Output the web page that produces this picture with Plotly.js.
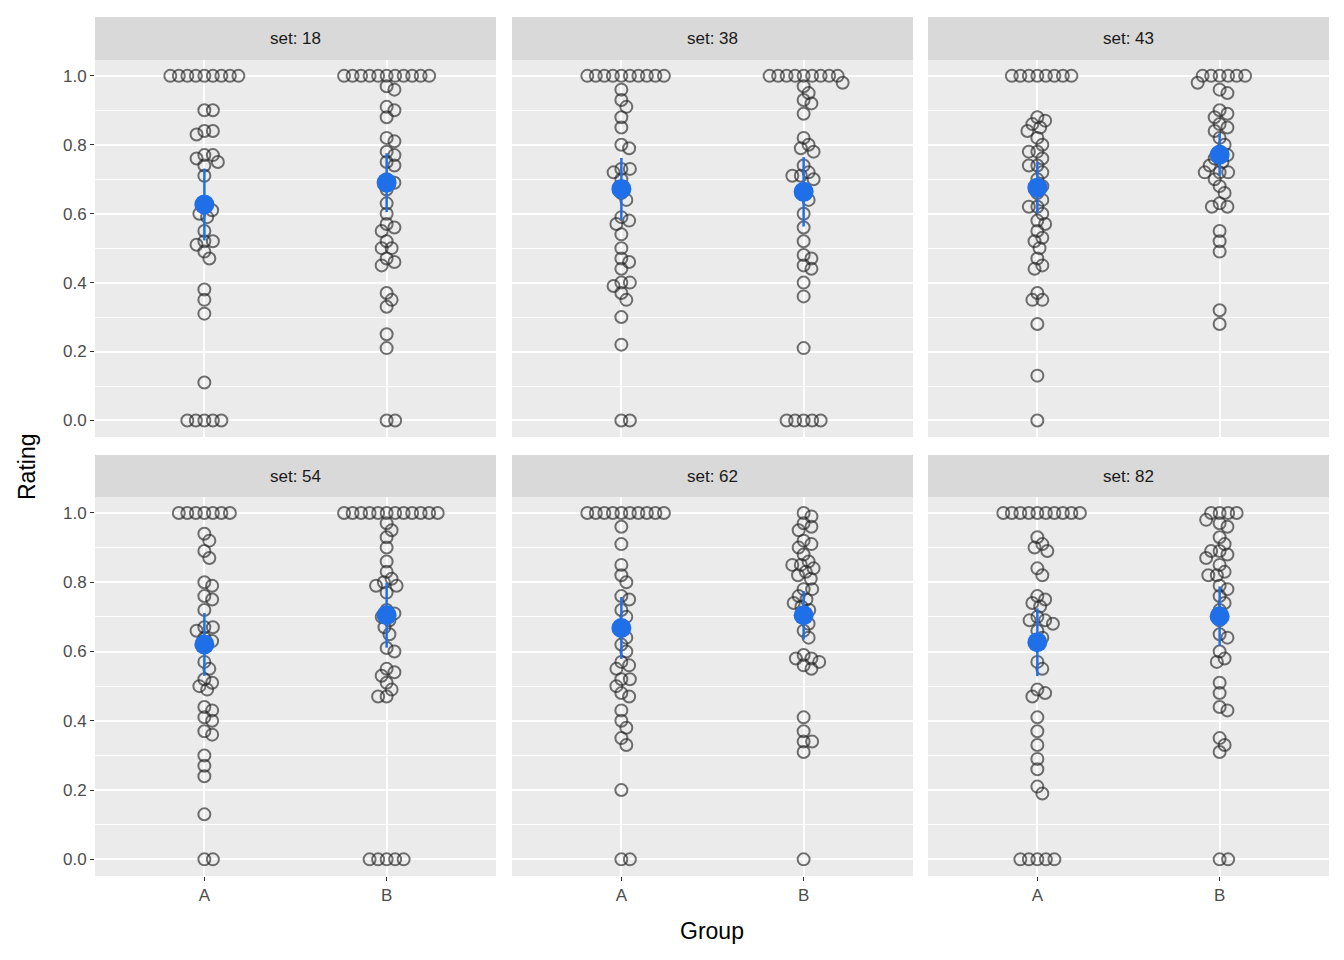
<!DOCTYPE html>
<html><head><meta charset="utf-8">
<script src="https://cdn.plot.ly/plotly-3.0.1.min.js"></script>
<style>body{margin:0;background:#fff}</style>
</head><body>
<div id="chart" style="width:1344px;height:960px"></div>
<script>
// ratings per set and group
const sets = ["18", "38", "43", "54", "62", "82"];
const rep = (v, n) => Array(n).fill(v);

const s18A = [...rep(1, 9), .90, .90, .84, .84, .83, .77, .77, .76, .75, .74, .71, .62, .61, .60, .59, .55, .52, .52, .51, .49, .47, .38, .35, .31, .11, ...rep(0, 5)];
const s18B = [...rep(1, 11), .97, .96, .91, .90, .88, .82, .81, .78, .77, .75, .74, .70, .69, .67, .63, .60, .57, .56, .55, .52, .50, .50, .47, .46, .45, .37, .35, .33, .25, .21, 0, 0];
const s38A = [...rep(1, 10), .96, .93, .91, .88, .85, .80, .79, .73, .73, .72, .70, .66, .64, .59, .58, .57, .54, .50, .47, .46, .44, .40, .40, .39, .37, .35, .30, .22, 0, 0];
const s38B = [...rep(1, 9), .98, .97, .95, .93, .92, .89, .82, .80, .79, .78, .74, .72, .71, .71, .70, .66, .64, .60, .56, .52, .48, .47, .45, .44, .40, .36, .21, ...rep(0, 5)];
const s43A = [...rep(1, 8), .88, .87, .86, .85, .84, .82, .80, .78, .78, .76, .74, .74, .72, .70, .68, .66, .64, .62, .62, .60, .58, .57, .55, .53, .52, .50, .47, .45, .44, .37, .35, .35, .28, .13, 0];
const s43B = [...rep(1, 6), .98, .96, .95, .90, .89, .88, .86, .85, .84, .82, .80, .78, .77, .76, .75, .74, .72, .72, .72, .70, .68, .66, .63, .62, .62, .55, .52, .49, .32, .28];
const s54A = [...rep(1, 7), .94, .92, .89, .87, .80, .79, .76, .75, .72, .67, .67, .66, .64, .63, .57, .55, .52, .51, .50, .49, .44, .43, .41, .40, .37, .36, .30, .27, .24, .13, 0, 0];
const s54B = [...rep(1, 12), .97, .95, .93, .90, .86, .83, .81, .80, .79, .79, .77, .72, .71, .70, .69, .67, .65, .61, .60, .55, .54, .53, .51, .49, .47, .47, ...rep(0, 5)];
const s62A = [...rep(1, 10), .96, .91, .85, .82, .80, .76, .75, .72, .70, .66, .64, .62, .60, .57, .56, .55, .52, .52, .50, .48, .47, .43, .40, .38, .35, .33, .20, 0, 0];
const s62B = [1, .99, .97, .96, .95, .92, .91, .90, .88, .86, .85, .85, .84, .83, .82, .81, .78, .78, .76, .75, .74, .73, .72, .70, .68, .66, .64, .59, .58, .58, .57, .56, .55, .41, .37, .34, .34, .31, 0];
const s82A = [...rep(1, 10), .93, .91, .90, .89, .84, .82, .76, .75, .74, .73, .70, .69, .69, .68, .66, .64, .62, .57, .55, .49, .48, .47, .41, .37, .33, .29, .26, .21, .19, ...rep(0, 5)];
const s82B = [...rep(1, 4), .98, .97, .96, .93, .91, .89, .89, .88, .87, .85, .83, .82, .82, .79, .78, .76, .74, .72, .69, .65, .64, .60, .58, .57, .51, .48, .44, .43, .35, .33, .31, 0, 0];

const groupA = [s18A, s38A, s43A, s54A, s62A, s82A];
const groupB = [s18B, s38B, s43B, s54B, s62B, s82B];

// beeswarm offsets in pixel space, then back to data units
const PXX = 182, PXY = 345, DMIN = 8.5;
function swarm(vals) {
  const order = vals.map((v, i) => i).sort((a, b) => vals[b] - vals[a]);
  const placed = [], off = new Array(vals.length);
  order.forEach(i => {
    const y = vals[i] * PXY;
    const near = placed.filter(p => Math.abs(p.y - y) < DMIN);
    const cands = [0];
    near.forEach(p => { const dx = Math.sqrt(DMIN * DMIN - (p.y - y) ** 2); cands.push(p.x + dx, p.x - dx); });
    cands.sort((a, b) => Math.abs(a) - Math.abs(b));
    const x = cands.find(c => near.every(p => Math.hypot(p.x - c, p.y - y) >= DMIN - 1e-6));
    placed.push({ x, y }); off[i] = x / PXX;
  });
  return off;
}
const mean = a => a.reduce((s, v) => s + v, 0) / a.length;
const ci = a => { const m = mean(a); const sd = Math.sqrt(a.reduce((s, v) => s + (v - m) ** 2, 0) / (a.length - 1)); return 1.96 * sd / Math.sqrt(a.length); };

const cols = [[95, 496], [512, 913], [928, 1329]];
const rows = [[60, 437, 17], [497, 876, 455]];
const W = 1344, H = 960;
const font = "Liberation Sans, Arial, sans-serif";
const traces = [], shapes = [], annotations = [];
const layout = {
  width: W, height: H, margin: { l: 0, r: 0, t: 0, b: 0 },
  paper_bgcolor: "#fff", plot_bgcolor: "#ebebeb", showlegend: false,
  font: { family: font, color: "#4d4d4d", size: 15 }
};

sets.forEach((s, k) => {
  const c = cols[k % 3], r = rows[Math.floor(k / 3)];
  const n = k + 1, xa = "x" + (n === 1 ? "" : n), ya = "y" + (n === 1 ? "" : n);
  layout["xaxis" + (n === 1 ? "" : n)] = {
    domain: [c[0] / W, c[1] / W], anchor: ya, range: [0.4, 2.6],
    tickvals: [1, 2], ticktext: k >= 3 ? ["A", "B"] : ["", ""],
    showgrid: true, gridcolor: "#fff", gridwidth: 1.5, zeroline: false,
    ticks: k >= 3 ? "outside" : "", ticklen: 4, tickcolor: "#333", tickfont: { size: 17, color: "#4d4d4d" }
  };
  layout["yaxis" + (n === 1 ? "" : n)] = {
    domain: [1 - r[1] / H, 1 - r[0] / H], anchor: xa, range: [-0.048, 1.046],
    tickvals: [0, .2, .4, .6, .8, 1], ticktext: k % 3 === 0 ? ["0.0", "0.2", "0.4", "0.6", "0.8", "1.0"] : rep("", 6),
    showgrid: true, gridcolor: "#fff", gridwidth: 1.5, zeroline: false,
    minor: { tickvals: [.1, .3, .5, .7, .9], showgrid: true, gridcolor: "#fff", gridwidth: 0.7 },
    ticks: k % 3 === 0 ? "outside" : "", ticklen: 4, tickcolor: "#333", tickfont: { size: 17, color: "#4d4d4d" }
  };
  shapes.push({ type: "rect", xref: "paper", yref: "paper", x0: c[0] / W, x1: c[1] / W, y0: 1 - r[0] / H, y1: 1 - r[2] / H, fillcolor: "#d9d9d9", line: { width: 0 } });
  annotations.push({ xref: "paper", yref: "paper", x: (c[0] + c[1]) / 2 / W, y: 1 - (r[0] + r[2]) / 2 / H, xanchor: "center", yanchor: "middle", text: "set: " + s, showarrow: false, font: { size: 17, color: "#1a1a1a" } });
  [groupA[k], groupB[k]].forEach((vals, g) => {
    const off = swarm(vals);
    traces.push({
      x: vals.map((_, i) => g + 1 + off[i]), y: vals, xaxis: xa, yaxis: ya, type: "scatter", mode: "markers",
      marker: { symbol: "circle-open", size: 12, color: "rgba(40,40,40,0.65)", line: { width: 2 } }, hoverinfo: "y"
    });
    traces.push({
      x: [g + 1], y: [mean(vals)], xaxis: xa, yaxis: ya, type: "scatter", mode: "markers",
      error_y: { type: "data", array: [ci(vals)], color: "#1f6fe8", thickness: 2.5, width: 0 },
      marker: { size: 20, color: "#1f6fe8" }, hoverinfo: "y"
    });
  });
});
annotations.push({ xref: "paper", yref: "paper", x: 712 / W, y: 1 - 931 / H, xanchor: "center", yanchor: "middle", text: "Group", showarrow: false, font: { size: 23, color: "#000" } });
annotations.push({ xref: "paper", yref: "paper", x: 27 / W, y: 1 - 467 / H, xanchor: "center", yanchor: "middle", text: "Rating", textangle: -90, showarrow: false, font: { size: 23, color: "#000" } });
layout.shapes = shapes;
layout.annotations = annotations;
Plotly.newPlot("chart", traces, layout, { displayModeBar: false });
</script>
</body></html>
